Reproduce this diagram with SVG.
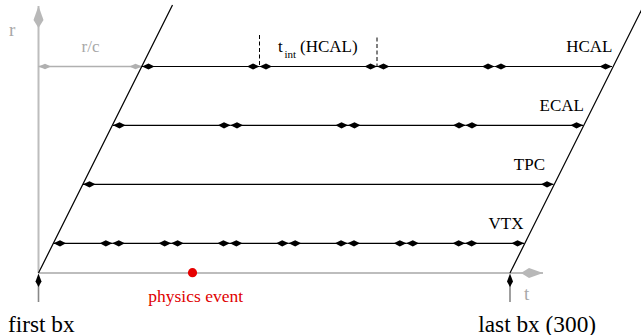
<svg xmlns="http://www.w3.org/2000/svg" width="641" height="335" viewBox="0 0 641 335" font-family="'Liberation Serif', 'Times New Roman', 'DejaVu Serif', serif">
<style>
text{font-family:'Liberation Serif','Times New Roman','DejaVu Serif',serif;}
.lbl{font-size:17px;fill:#000;}
.gr{fill:#a8a8a8;}
.seg{stroke:#000;stroke-width:1.2;fill:none;marker-start:url(#ah);marker-end:url(#ah);}
.slant{stroke:#000;stroke-width:1.2;fill:none;}
.axis{stroke:#bdbdbd;stroke-width:2;fill:none;}
.dash{stroke:#000;stroke-width:1;stroke-dasharray:4,2.5;fill:none;}
</style>
<defs>
<marker id="ah" markerUnits="userSpaceOnUse" markerWidth="14" markerHeight="7" refX="12.5" refY="3.5" orient="auto-start-reverse" overflow="visible">
<path d="M12.5,3.5 L6,0.4 L0,3.5 L6,6.6 Z" fill="#000"/>
</marker>
<marker id="gh" markerUnits="userSpaceOnUse" markerWidth="14" markerHeight="6" refX="12.5" refY="3" orient="auto-start-reverse" overflow="visible">
<path d="M12.5,3 L6,0.3 L0,3 L6,5.7 Z" fill="#b0b0b0"/>
</marker>
<marker id="axh" markerUnits="userSpaceOnUse" markerWidth="24" markerHeight="11" refX="22" refY="5.5" orient="auto" overflow="visible">
<path d="M22,5.5 L8,0.5 L0,5.5 L8,10.5 Z" fill="#b8b8b8"/>
</marker>
</defs>

<g id="axes">
<line class="axis" x1="38.5" y1="273" x2="38.5" y2="6" marker-end="url(#axh)"/>
<line class="axis" x1="38.5" y1="273" x2="543" y2="273" marker-end="url(#axh)"/>
<text id="label-r" class="gr" x="9" y="36" font-size="19">r</text>
<text id="label-t" class="gr" x="524" y="300" font-size="19">t</text>
</g>

<g id="rc">
<line x1="38.5" y1="66.5" x2="142" y2="66.5" stroke="#b0b0b0" stroke-width="1.5" marker-start="url(#gh)" marker-end="url(#gh)"/>
<text class="gr" x="81.5" y="51.7" font-size="17">r/c</text>
</g>

<g id="slants">
<line class="slant" x1="38.5" y1="273" x2="172.5" y2="5"/>
<line class="slant" x1="510" y1="273" x2="641.5" y2="10"/>
</g>

<g id="connectors">
<line class="seg" x1="142" y1="66.5" x2="259.5" y2="66.5"/>
<line class="seg" x1="259.5" y1="66.5" x2="377" y2="66.5"/>
<line class="seg" x1="377" y1="66.5" x2="494.5" y2="66.5"/>
<line class="seg" x1="494.5" y1="66.5" x2="612" y2="66.5"/>
<line class="seg" x1="113" y1="125.3" x2="230.5" y2="125.3"/>
<line class="seg" x1="230.5" y1="125.3" x2="348" y2="125.3"/>
<line class="seg" x1="348" y1="125.3" x2="465.5" y2="125.3"/>
<line class="seg" x1="465.5" y1="125.3" x2="583" y2="125.3"/>
<line class="seg" x1="83" y1="184.3" x2="553.5" y2="184.3"/>
<line class="seg" x1="53.5" y1="243.3" x2="112.3" y2="243.3"/>
<line class="seg" x1="112.3" y1="243.3" x2="171.1" y2="243.3"/>
<line class="seg" x1="171.1" y1="243.3" x2="229.9" y2="243.3"/>
<line class="seg" x1="229.9" y1="243.3" x2="288.7" y2="243.3"/>
<line class="seg" x1="288.7" y1="243.3" x2="347.5" y2="243.3"/>
<line class="seg" x1="347.5" y1="243.3" x2="406.3" y2="243.3"/>
<line class="seg" x1="406.3" y1="243.3" x2="465.1" y2="243.3"/>
<line class="seg" x1="465.1" y1="243.3" x2="524" y2="243.3"/>
<line class="dash" x1="259.5" y1="35" x2="259.5" y2="66.5"/>
<line class="dash" x1="377" y1="37.5" x2="377" y2="66.5"/>
</g>

<g id="hcal"><text class="lbl" x="612.5" y="51.7" text-anchor="end">HCAL</text></g>
<g id="ecal"><text class="lbl" x="584" y="110.7" text-anchor="end">ECAL</text></g>
<g id="tpc"><text class="lbl" x="545" y="170" text-anchor="end">TPC</text></g>
<g id="vtx"><text class="lbl" x="523.5" y="229" text-anchor="end">VTX</text></g>

<g id="tint">
<text class="lbl" x="278" y="51.7">t</text>
<text x="284.5" y="58" font-size="11">int</text>
<text class="lbl" x="300" y="51.7">(HCAL)</text>
</g>

<g id="event">
<circle cx="192.5" cy="272.7" r="4.6" fill="#e60000"/>
<text x="148.3" y="301.7" font-size="17.5" fill="#e00000">physics event</text>
</g>

<g id="first-bx">
<line x1="38.5" y1="285" x2="38.5" y2="302" stroke="#888" stroke-width="1.6"/>
<path d="M38.5,273.5 L35.5,281.5 L38.5,287 L41.5,281.5 Z" fill="#000"/>
<text x="8" y="331.5" font-size="23.3">first bx</text>
</g>

<g id="last-bx">
<line x1="510" y1="285" x2="510" y2="302" stroke="#888" stroke-width="1.6"/>
<path d="M510,273.5 L507,281.5 L510,287 L513,281.5 Z" fill="#000"/>
<text x="478.3" y="331.5" font-size="23.3">last bx (300)</text>
</g>
</svg>
